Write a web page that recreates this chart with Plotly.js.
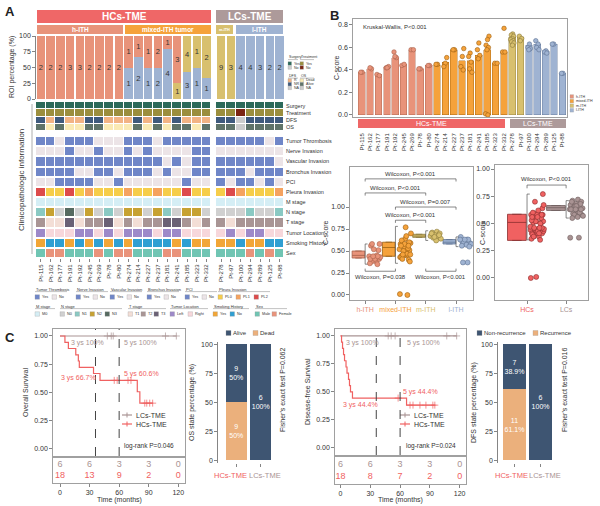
<!DOCTYPE html>
<html><head><meta charset="utf-8">
<script src="https://cdn.plot.ly/plotly-3.0.1.min.js"></script>
<style>body{margin:0;background:#fff}#chart{width:600px;height:506px}</style>
</head><body><div id="chart"></div>
<script>
// ================= DATA =================
const patients = ['Pt-115','Pt-162','Pt-177','Pt-191','Pt-192','Pt-245','Pt-269','Pt-78','Pt-80','Pt-274','Pt-214','Pt-227','Pt-237','Pt-181','Pt-241','Pt-185','Pt-323','Pt-332','Pt-278','Pt-97','Pt-100','Pt-294','Pt-289','Pt-125','Pt-88'];
const tmeGroup = ['HCs','HCs','HCs','HCs','HCs','HCs','HCs','HCs','HCs','HCs','HCs','HCs','HCs','HCs','HCs','HCs','HCs','HCs','LCs','LCs','LCs','LCs','LCs','LCs','LCs'];
const ithGroup = ['h-ITH','h-ITH','h-ITH','h-ITH','h-ITH','h-ITH','h-ITH','h-ITH','h-ITH','mixed-ITH','mixed-ITH','mixed-ITH','mixed-ITH','mixed-ITH','mixed-ITH','mixed-ITH','mixed-ITH','mixed-ITH','m-ITH','m-ITH','l-ITH','l-ITH','l-ITH','l-ITH','l-ITH'];
const roiH = [2,2,2,3,3,2,2,2,2, 1,1,1,2,1,3,0,0,0, 0,0,0,0,0,0,0];
const roiM = [0,0,0,0,0,0,0,0,0, 0,0,0,0,0,1,4,1,2, 9,3,0,0,0,0,0];
const roiL = [0,0,0,0,0,0,0,0,0, 1,2,1,2,4,0,3,1,1, 0,0,4,4,3,2,2];
const cScoreBar = [0.38,0.41,0.36,0.43,0.51,0.45,0.58,0.41,0.44,0.44,0.47,0.58,0.48,0.48,0.53,0.58,0.46,0.56,0.69,0.69,0.62,0.63,0.57,0.63,0.37];
const cScoreROI = [
 [0.38,0.38],[0.41,0.42],[0.36,0.35],[0.42,0.43,0.42],[0.56,0.51,0.52],[0.44,0.45],[0.58,0.58],[0.41,0.41],[0.44,0.44],
 [0.45,0.45],[0.51,0.46,0.43],[0.58,0.58],[0.59,0.52,0.43,0.40],[0.55,0.52,0.47,0.41,0.38],[0.64,0.58,0.53,0.50],[0.70,0.67,0.62,0.60,0.58,0.01,0.00],[0.46,0.46],[0.77,0.56,0.56],
 [0.72,0.71,0.70,0.68,0.67,0.66,0.65,0.64,0.62],[0.70,0.68,0.66],[0.63,0.60,0.59,0.58],[0.66,0.63,0.60,0.58],[0.57,0.56,0.55],[0.63,0.63],[0.37,0.37]
];
const surgery   = ['Yes','Yes','Yes','Yes','Yes','Yes','Yes','Yes','Yes','Yes','Yes','Yes','Yes','Yes','Yes','Yes','Yes','Yes','Yes','Yes','Yes','Yes','Yes','Yes','Yes'];
const treatment = ['Yes','Yes','Yes','Yes','Yes','Yes','Yes','Yes','Yes','Yes','Yes','Yes','Yes','Yes','Yes','Yes','Yes','Yes','Yes','Yes','No','Yes','Yes','Yes','Yes'];
const dfsState  = ['NR','R','NR','R','R','NR','NR','R','R','R','NR','R','NR','R','NR','R','R','R','NR','NR','NA','NR','NR','NR','NR'];
const osState   = ['Alive','Dead','Alive','Dead','Dead','Alive','Alive','Dead','Dead','Dead','Alive','Dead','Alive','Dead','Alive','Alive','Dead','Alive','Alive','Alive','NA','Alive','Alive','Alive','Alive'];
const thrombosis= ['Y','Y','N','Y','Y','Y','N','N','N','Y','Y','Y','N','Y','Y','Y','Y','Y','Y','Y','Y','Y','Y','N','Y'];
const nerve     = ['N','N','N','Y','N','N','Y','N','N','Y','N','Y','N','N','N','N','Y','Y','N','N','N','N','N','N','N'];
const vascular  = ['Y','Y','Y','Y','Y','Y','Y','Y','Y','Y','Y','Y','Y','N','Y','N','Y','Y','Y','Y','Y','Y','Y','Y','N'];
const bronchus  = ['Y','Y','Y','Y','N','N','Y','Y','N','Y','Y','Y','N','Y','N','N','Y','Y','Y','Y','Y','N','Y','Y','Y'];
const pci       = ['N','N','Y','Y','Y','Y','N','N','Y','N','N','N','N','N','N','Y','N','N','Y','N','Y','Y','N','Y','N'];
const pleura    = ['PL2','PL0','PL0','PL2','PL0','PL1','PL0','PL0','PL0','PL1','PL0','PL0','PL1','PL0','PL0','PL2','PL0','PL0','PL0','PL2','PL1','PL0','PL0','PL0','PL1'];
const mStage    = ['M0','M0','M0','M0','M0','M0','M0','M0','M0','M0','M0','M0','M0','M0','M0','M0','M0','M0','M0','M0','M0','M0','M0','M0','M0'];
const nStage    = ['N1','N2','N0','N3','N0','N2','N0','N1','N0','N2','N2','N0','N2','N1','N0','N2','N2','N0','N0','N0','N0','N1','N0','N0','N1'];
const tStage    = ['T2','T1','T1','T3','T1','T2','T2','T3','T1','T2','T1','T2','T2','T3','T3','T2','T1','T2','T2','T1','T2','T2','T2','T2','T2'];
const tumorLocation = ['Left','Right','Right','Right','Left','Left','Right','Left','Right','Left','Left','Left','Right','Left','Left','Right','Right','Right','Right','Left','Right','Left','Left','Right','Right'];
const smoking   = ['Yes','No','No','Yes','No','Yes','No','Yes','No','Yes','No','No','No','No','Yes','No','Yes','Yes','Yes','Yes','No','Yes','Yes','No','No'];
const sexes     = ['Male','Female','Female','Male','Male','Male','Female','Male','Female','Female','Male','Male','Male','Female','Female','Male','Male','Male','Male','Male','Male','Female','Male','Female','Male'];
const ithGroups = ['h-ITH','mixed-ITH','m-ITH','l-ITH'];
const ithQ1  = [0.42,0.44,0.655,0.58];
const ithMed = [0.45,0.54,0.67,0.60];
const ithQ3  = [0.50,0.60,0.69,0.63];
const ithLo  = [0.35,0.36,0.62,0.55];
const ithHi  = [0.58,0.78,0.73,0.66];
const tmeGroups = ['HCs','LCs'];
const tmeQ1  = [0.345,0.62];
const tmeMed = [0.51,0.645];
const tmeQ3  = [0.585,0.665];
const tmeLo  = [0.35,0.55];
const tmeHi  = [0.77,0.71];
const osHCt = [0,5,8.5,16,18.6,19.6,34,40.6,55,58,69,72,78.4,81,86,88,91,94];
const osHCs = [1,0.944,0.889,0.833,0.778,0.722,0.667,0.606,0.606,0.606,0.606,0.606,0.505,0.404,0.404,0.404,0.404,0.404];
const osHCc = [0,0,0,0,0,0,0,0,1,1,1,1,0,0,1,1,1,1];
const osLCt = [0,48,52,54,107,118];
const osLCs = [1,1,1,1,1,1];
const osLCc = [0,1,1,1,1,1];
const dfsHCt = [0,1,2,3,4,5.5,6.5,8,9,10,12,58,66.5,70,73,80,86,93,95];
const dfsHCs = [1,0.944,0.889,0.833,0.778,0.722,0.667,0.611,0.556,0.5,0.444,0.444,0.381,0.381,0.381,0.381,0.381,0.381,0.381];
const dfsHCc = [0,0,0,0,0,0,0,0,0,0,0,1,0,1,1,1,1,1,1];
const dfsLCt = [0,48,51,55,107,117];
const dfsLCs = [1,1,1,1,1,1];
const dfsLCc = [0,1,1,1,1,1];
const riskTimes = [0,30,60,90,120];
const osRiskLC = [6,6,3,3,0];
const osRiskHC = [18,13,9,2,0];
const dfsRiskLC = [6,6,3,3,0];
const dfsRiskHC = [18,8,7,2,0];
const stateGroups = ['HCs-TME','LCs-TME'];
const osAlive = [9,6];
const osDead  = [9,0];
const dfsNonRec = [7,6];
const dfsRec    = [11,0];

// ================= STYLE / HELPERS =================
const FONT = 'Arial, "Liberation Sans", Helvetica, sans-serif';
const W = 600, H = 506;
const PX = v => v / W, PY = v => 1 - v / H;
const xd = (a, b) => [PX(a), PX(b)];
const yd = (top, bot) => [PY(bot), PY(top)];
const cH = '#e8937a', cMix = '#f5a23b', cM = '#d8c06e', cL = '#9fb3d2';
const ithColor = {'h-ITH': cH, 'mixed-ITH': cMix, 'm-ITH': cM, 'l-ITH': cL};
const ithEdge  = {'h-ITH': '#a8624c', 'mixed-ITH': '#9c6010', 'm-ITH': '#8c7a3c', 'l-ITH': '#5f7394'};
const cHC = '#f06161', cLC = '#a99393';
const cRed = '#ef6767', cLCband = '#ad9a9a';
const cNavy = '#3e5572', cTan = '#ebb07c';
const frac = k => (k * 0.6180339887) % 1;

const pos = patients.map((p, i) => i + (i >= 18 ? 0.5 : 0));
const tot = patients.map((p, i) => roiH[i] + roiM[i] + roiL[i]);

const traces = [];
const shapes = [];
const ann = [];
function txt(x, y, text, o) { ann.push(Object.assign({x: PX(x), y: PY(y), xref: 'paper', yref: 'paper', xanchor: 'center', yanchor: 'middle', text, showarrow: false, borderpad: 0, font: {size: 7, color: '#333', family: FONT}}, o || {})); }
function rectPx(x0, y0, x1, y1, fill, line) { shapes.push({type: 'rect', xref: 'paper', yref: 'paper', x0: PX(x0), x1: PX(x1), y0: PY(y0), y1: PY(y1), fillcolor: fill, line: line || {width: 0}}); }
function linePx(x0, y0, x1, y1, color, w) { shapes.push({type: 'line', xref: 'paper', yref: 'paper', x0: PX(x0), x1: PX(x1), y0: PY(y0), y1: PY(y1), line: {color: color || '#888', width: w || 0.6}}); }
function vtitle(x, y, t) { txt(x, y, t, {textangle: -90, font: {size: 7, color: '#333', family: FONT}}); }

// ================= PANEL A =================
rectPx(37, 10, 211, 23, cRed); txt(124, 16.5, '<b>HCs-TME</b>', {font: {size: 10, color: '#fff', family: FONT}});
rectPx(216, 10, 283, 23, cLCband); txt(249.5, 16.5, '<b>LCs-TME</b>', {font: {size: 10, color: '#fff', family: FONT}});
rectPx(37, 25, 123, 34, cH); txt(80, 29.5, '<b>h-ITH</b>', {font: {size: 6.5, color: '#fff', family: FONT}});
rectPx(125, 25, 211, 34, cMix); txt(168, 29.5, '<b>mixed-ITH tumor</b>', {font: {size: 6.5, color: '#fff', family: FONT}});
rectPx(216, 25, 233, 34, cM); txt(224.5, 29.5, '<b>m-ITH</b>', {font: {size: 3.8, color: '#fff', family: FONT}});
rectPx(236, 25, 283, 34, cL); txt(259.5, 29.5, '<b>l-ITH</b>', {font: {size: 6.5, color: '#fff', family: FONT}});
vtitle(12, 67, 'ROI percentage (%)');

function roiTrace(counts, color) {
  return {type: 'bar', x: pos, y: counts.map((c, i) => c / tot[i] * 100),
    text: counts.map(c => c > 0 ? String(c) : ''), textposition: 'inside', insidetextanchor: 'middle', textangle: 0,
    textfont: {size: 7.5, color: '#333', family: FONT},
    marker: {color, line: {width: 0}}, width: 0.86, xaxis: 'x', yaxis: 'y', showlegend: false, hoverinfo: 'skip'};
}
traces.push(roiTrace(roiL, cL), roiTrace(roiM, cM), roiTrace(roiH, cH));

const colorMap = {
  'Surgery': {Yes: '#2c6a5a', No: '#cfcfcf'},
  'Treatment': {Yes: '#9b8e3d', No: '#7a2412'},
  'DFS': {R: '#f2b384', NR: '#3f5a7d', NA: '#cccccc'},
  'OS': {Dead: '#faeab3', Alive: '#5f7369', NA: '#cccccc'},
  'yesno': {Y: '#6f86c8', N: '#ece4e7'},
  'Pleura Invasion': {PL0: '#f6cd4a', PL1: '#f5a35f', PL2: '#dd4b4b'},
  'M stage': {M0: '#d5eef5'},
  'N stage': {N0: '#d0d0d0', N1: '#8ac9c3', N2: '#c7a232', N3: '#566a60'},
  'T stage': {T1: '#f3ded6', T2: '#a99595', T3: '#6a6175'},
  'Tumor Location': {Left: '#9d89c9', Right: '#f7d7db'},
  'Smoking History': {Yes: '#f2a636', No: '#2f9fd2'},
  'Sex': {Male: '#70c5b3', Female: '#e9937b'}
};
const rowsTop = [['Surgery', surgery], ['Treatment', treatment], ['DFS', dfsState], ['OS', osState]];
const rowsBot = [['Tumor Thrombosis', thrombosis], ['Nerve Invasion', nerve], ['Vascular Invasion', vascular], ['Bronchus Invasion', bronchus], ['PCI', pci], ['Pleura Invasion', pleura], ['M stage', mStage], ['N stage', nStage], ['T stage', tStage], ['Tumor Location', tumorLocation], ['Smoking History', smoking], ['Sex', sexes]];
const edges = [];
for (let i = 0; i <= 18; i++) edges.push(i - 0.5);
edges.push(18.0);
for (let i = 18; i < 25; i++) edges.push(pos[i] + 0.5);
function heat(rows, xa, ya, ygap) {
  const palette = [];
  const z = rows.map(([name, vals]) => {
    const cm = colorMap[name] || colorMap.yesno;
    const r = [];
    vals.forEach((v, i) => {
      if (i === 18) r.push(null);
      const c = cm[v]; let k = palette.indexOf(c);
      if (k < 0) { palette.push(c); k = palette.length - 1; }
      r.push(k);
    });
    return r;
  });
  const N = palette.length, cs = [];
  palette.forEach((c, i) => { cs.push([i / N, c]); cs.push([(i + 1) / N, c]); });
  traces.push({type: 'heatmap', z, x: edges, y: rows.map((r, i) => i), zmin: -0.5, zmax: N - 0.5, colorscale: cs, showscale: false, xgap: 1, ygap, xaxis: xa, yaxis: ya, hoverinfo: 'skip'});
  rows.forEach(([name], i) => ann.push({xref: 'paper', yref: ya, x: PX(285), y: i, text: name, xanchor: 'left', yanchor: 'middle', showarrow: false, borderpad: 0, font: {size: 5.5, color: '#333', family: FONT}}));
}
heat(rowsTop, 'x2', 'y2', 1);
heat(rowsBot, 'x3', 'y3', 2);
linePx(32, 104, 32, 254, '#999', 0.8);
txt(22, 180, 'Clinicopathologic information', {textangle: -90, font: {size: 8, color: '#333', family: FONT}});

function swatch(x, y, c, label, s, fs) {
  s = s || 3.5; fs = fs || 3.6;
  rectPx(x, y - s / 2, x + s, y + s / 2, c, {width: 0.3, color: '#999'});
  txt(x + s + 1.2, y, label, {xanchor: 'left', font: {size: fs, color: '#333', family: FONT}});
}
function ltitle(x, y, t, w, fs) { txt(x, y, t, {xanchor: 'left', font: {size: fs || 3.6, color: '#333', family: FONT}}); linePx(x, y + 2.6, x + w, y + 2.6, '#666', 0.4); }
ltitle(288, 57, 'Surgery', 10); ltitle(300, 57, 'Treatment', 14);
swatch(288, 63.5, colorMap.Surgery.Yes, 'Yes'); swatch(288, 67.5, colorMap.Surgery.No, 'No');
swatch(300, 63.5, colorMap.Treatment.Yes, 'Yes'); swatch(300, 67.5, colorMap.Treatment.No, 'No');
ltitle(288, 75.5, 'DFS', 10); ltitle(300, 75.5, 'OS', 14);
swatch(288, 80.5, colorMap.DFS.R, 'R'); swatch(288, 84.2, colorMap.DFS.NR, 'NR'); swatch(288, 87.9, colorMap.DFS.NA, 'NA');
swatch(300, 80.5, colorMap.OS.Dead, 'Dead'); swatch(300, 84.2, colorMap.OS.Alive, 'Alive'); swatch(300, 87.9, colorMap.OS.NA, 'NA');

const yn = colorMap.yesno;
[['Tumor Thrombosis', 35], ['Nerve Invasion', 76], ['Vascular Invasion', 110], ['Bronchus Invasion', 147], ['PCI', 185]].forEach(([t, x]) => {
  ltitle(x, 289, t, 32, 4); swatch(x, 297, yn.Y, 'Yes', 4.5, 3.8); swatch(x + 17, 297, yn.N, 'No', 4.5, 3.8);
});
ltitle(218, 289, 'Pleura Invasion', 52, 4);
['PL0', 'PL1', 'PL2'].forEach((k, i) => swatch(218 + i * 18, 297, colorMap['Pleura Invasion'][k], k, 4.5, 3.8));
ltitle(35, 306, 'M stage', 20, 4); swatch(35, 314, colorMap['M stage'].M0, 'M0', 4.5, 3.8);
ltitle(60, 306, 'N stage', 62, 4); ['N0', 'N1', 'N2', 'N3'].forEach((k, i) => swatch(60 + i * 15, 314, colorMap['N stage'][k], k, 4.5, 3.8));
ltitle(128, 306, 'T stage', 38, 4); ['T1', 'T2', 'T3'].forEach((k, i) => swatch(128 + i * 13, 314, colorMap['T stage'][k], k, 4.5, 3.8));
ltitle(170, 306, 'Tumor Location', 38, 4); swatch(170, 314, colorMap['Tumor Location'].Left, 'Left', 4.5, 3.8); swatch(188, 314, colorMap['Tumor Location'].Right, 'Right', 4.5, 3.8);
ltitle(213, 306, 'Smoking History', 36, 4); swatch(213, 314, colorMap['Smoking History'].Yes, 'Yes', 4.5, 3.8); swatch(230, 314, colorMap['Smoking History'].No, 'No', 4.5, 3.8);
ltitle(255, 306, 'Sex', 32, 4); swatch(255, 314, colorMap.Sex.Male, 'Male', 4.5, 3.8); swatch(272, 314, colorMap.Sex.Female, 'Female', 4.5, 3.8);

// ================= PANEL B =================
ithGroups.forEach(g => {
  const idx = patients.map((p, i) => i).filter(i => ithGroup[i] === g);
  traces.push({type: 'bar', x: idx, y: idx.map(i => cScoreBar[i]), marker: {color: ithColor[g], line: {color: ithEdge[g], width: 0.4}}, width: 0.8, xaxis: 'x4', yaxis: 'y4', showlegend: false, hoverinfo: 'skip'});
});
ithGroups.forEach(g => {
  const xs = [], ys = [];
  let n = 0;
  patients.forEach((p, i) => { if (ithGroup[i] !== g) return; cScoreROI[i].forEach(v => { n++; xs.push(i + (frac(n) - 0.5) * 0.45); ys.push(v); }); });
  traces.push({type: 'scatter', mode: 'markers', x: xs, y: ys, marker: {size: 4.5, color: ithColor[g], line: {color: ithEdge[g], width: 0.6}}, xaxis: 'x4', yaxis: 'y4', showlegend: false, hoverinfo: 'skip'});
});
txt(362, 27, 'Kruskal-Wallis, P<0.001', {xanchor: 'left', font: {size: 6, color: '#333', family: FONT}});
rectPx(358, 119, 505, 128, cRed); txt(431, 123.5, 'HCs-TME', {font: {size: 7, color: '#fff', family: FONT}});
rectPx(510, 119, 566, 128, cLCband); txt(538, 123.5, 'LCs-TME', {font: {size: 7, color: '#fff', family: FONT}});
ithGroups.forEach((g, i) => swatch(570, 96.5 + i * 4.6, ithColor[g], g, 3.6, 3.6));
vtitle(336, 68, 'C-score');

ithGroups.forEach((g, k) => {
  const c = k + 1;
  traces.push({type: 'box', x: [c - 0.22], q1: [ithQ1[k]], median: [ithMed[k]], q3: [ithQ3[k]], lowerfence: [ithQ1[k]], upperfence: [ithQ3[k]], width: 0.42,
    fillcolor: ithColor[g], line: {color: ithEdge[g], width: 0.8}, boxpoints: false, xaxis: 'x5', yaxis: 'y5', showlegend: false, hoverinfo: 'skip'});
  shapes.push({type: 'path', xref: 'x5', yref: 'y5', path: `M${c + 0.08},${ithLo[k]} L${c},${ithLo[k]} L${c},${ithHi[k]} L${c + 0.08},${ithHi[k]}`, line: {color: '#555', width: 0.7}});
  const xs = [], ys = [];
  let n = 0;
  patients.forEach((p, i) => { if (ithGroup[i] !== g) return; cScoreROI[i].forEach(v => { n++; xs.push(c + 0.12 + frac(n) * 0.4); ys.push(v); }); });
  traces.push({type: 'scatter', mode: 'markers', x: xs, y: ys, marker: {size: 5, color: ithColor[g], line: {color: ithEdge[g], width: 0.6}}, xaxis: 'x5', yaxis: 'y5', showlegend: false, hoverinfo: 'skip'});
});
function sig(xa, ya, a, b, y, d, label, ty) {
  shapes.push({type: 'path', xref: xa, yref: ya, path: `M${a},${y - d} L${a},${y} L${b},${y} L${b},${y - d}`, line: {color: '#555', width: 0.7}});
  ann.push({xref: xa, yref: ya, x: (a + b) / 2, y: ty, text: label, xanchor: 'center', yanchor: 'middle', showarrow: false, borderpad: 0, font: {size: 6, color: '#333', family: FONT}});
}
sig('x5', 'y5', 1, 4, 1.32, 0.03, 'Wilcoxon, P<0.001', 1.38);
sig('x5', 'y5', 1, 3, 1.16, 0.03, 'Wilcoxon, P<0.001', 1.22);
sig('x5', 'y5', 2, 4, 1.00, 0.03, 'Wilcoxon, P=0.007', 1.06);
sig('x5', 'y5', 2, 3, 0.85, 0.03, 'Wilcoxon, P<0.001', 0.91);
sig('x5', 'y5', 1, 2, 0.27, -0.03, 'Wilcoxon, P=0.038', 0.20);
sig('x5', 'y5', 3, 4, 0.27, -0.03, 'Wilcoxon, P<0.001', 0.20);
ann.push({xref: 'x5', yref: 'y5', x: 4.58, y: 0.0, text: 'Kruskal-Wallis, P<0.001', xanchor: 'right', yanchor: 'middle', showarrow: false, borderpad: 0, font: {size: 6, color: '#333', family: FONT}});
vtitle(325, 233, 'C-score');

const tmeColor = [cHC, cLC], tmeEdge = ['#8a2e2e', '#6e5e5e'];
tmeGroups.forEach((g, k) => {
  const c = k + 1;
  traces.push({type: 'box', x: [c - 0.26], q1: [tmeQ1[k]], median: [tmeMed[k]], q3: [tmeQ3[k]], lowerfence: [tmeQ1[k]], upperfence: [tmeQ3[k]], width: 0.48,
    fillcolor: tmeColor[k], line: {color: tmeEdge[k], width: 0.8}, boxpoints: false, xaxis: 'x6', yaxis: 'y6', showlegend: false, hoverinfo: 'skip'});
  shapes.push({type: 'path', xref: 'x6', yref: 'y6', path: `M${c + 0.07},${tmeLo[k]} L${c},${tmeLo[k]} L${c},${tmeHi[k]} L${c + 0.07},${tmeHi[k]}`, line: {color: '#555', width: 0.7}});
  const xs = [], ys = [];
  let n = 0;
  patients.forEach((p, i) => { if (tmeGroup[i] !== g) return; cScoreROI[i].forEach(v => { n++; xs.push(c + 0.08 + frac(n) * 0.36); ys.push(v); }); });
  traces.push({type: 'scatter', mode: 'markers', x: xs, y: ys, marker: {size: 5, color: tmeColor[k], line: {color: tmeEdge[k], width: 0.6}}, xaxis: 'x6', yaxis: 'y6', showlegend: false, hoverinfo: 'skip'});
});
sig('x6', 'y6', 1, 2, 0.853, 0.03, 'Wilcoxon, P<0.001', 0.91);
vtitle(482, 233, 'C-score');

// ================= PANEL C =================
function km(t, s, c, color, xa, ya) {
  traces.push({type: 'scatter', mode: 'lines+markers', x: t, y: s, line: {shape: 'hv', color, width: 1.2},
    marker: {symbol: 'cross-thin-open', size: c.map(v => v ? 5 : 0), color, line: {color, width: 1}}, xaxis: xa, yaxis: ya, showlegend: false, hoverinfo: 'skip'});
}
function risk(vals, row, color, xa, ya) {
  traces.push({type: 'scatter', mode: 'text', x: riskTimes, y: riskTimes.map(() => row), text: vals.map(String), textfont: {size: 9, color, family: FONT}, xaxis: xa, yaxis: ya, showlegend: false, hoverinfo: 'skip'});
}
function kmLegend(x, y, color, label) {
  linePx(x, y, x + 10, y, color, 1.2);
  linePx(x + 5, y - 2.5, x + 5, y + 2.5, color, 1);
  txt(x + 13, y, label, {xanchor: 'left', font: {size: 7, color: '#333', family: FONT}});
}
km(osLCt, osLCs, osLCc, cLC, 'x7', 'y7');
km(osHCt, osHCs, osHCc, cHC, 'x7', 'y7');
risk(osRiskLC, 1, cLC, 'x8', 'y8'); risk(osRiskHC, 0, cHC, 'x8', 'y8');
km(dfsLCt, dfsLCs, dfsLCc, cLC, 'x10', 'y10');
km(dfsHCt, dfsHCs, dfsHCc, cHC, 'x10', 'y10');
risk(dfsRiskLC, 1, cLC, 'x11', 'y11'); risk(dfsRiskHC, 0, cHC, 'x11', 'y11');
kmLegend(122, 415, cLC, 'LCs-TME'); kmLegend(122, 424, cHC, 'HCs-TME');
kmLegend(400, 415, cLC, 'LCs-TME'); kmLegend(400, 424, cHC, 'HCs-TME');
[36, 60].forEach(t => {
  shapes.push({type: 'line', xref: 'x7', yref: 'y7 domain', x0: t, x1: t, y0: 0, y1: 1, line: {color: '#444', width: 1, dash: 'dash'}});
  shapes.push({type: 'line', xref: 'x10', yref: 'y10 domain', x0: t, x1: t, y0: 0, y1: 1, line: {color: '#444', width: 1, dash: 'dash'}});
});
function kmText(xa, ya, x, y, t, color) { ann.push({xref: xa, yref: ya, x, y, text: t, xanchor: 'left', yanchor: 'middle', showarrow: false, borderpad: 0, font: {size: 7, color, family: FONT}}); }
kmText('x7', 'y7', 10, 0.94, '3 ys 100%', cLC); kmText('x7', 'y7', 64, 0.94, '5 ys 100%', cLC);
kmText('x7', 'y7', 0, 0.627, '3 ys 66.7%', cHC); kmText('x7', 'y7', 64, 0.663, '5 ys 60.6%', cHC);
ann.push({xref: 'x7', yref: 'y7', x: 117, y: 0.02, text: 'log-rank P=0.046', xanchor: 'right', yanchor: 'middle', showarrow: false, borderpad: 0, font: {size: 6.5, color: '#333', family: FONT}});
kmText('x10', 'y10', 4, 0.94, '3 ys 100%', cLC); kmText('x10', 'y10', 66, 0.94, '5 ys 100%', cLC);
kmText('x10', 'y10', 1, 0.379, '3 ys 44.4%', cHC); kmText('x10', 'y10', 61.5, 0.497, '5 ys 44.4%', cHC);
ann.push({xref: 'x10', yref: 'y10', x: 117, y: 0.02, text: 'log-rank P=0.024', xanchor: 'right', yanchor: 'middle', showarrow: false, borderpad: 0, font: {size: 6.5, color: '#333', family: FONT}});
vtitle(25, 393, 'Overall Survival');
vtitle(307, 392, 'Disease-free Survival');
txt(119, 500, 'Time (months)');
txt(400, 500, 'Time (months)');

function stateBars(top, bot, cTop, cBot, xa, ya) {
  const totals = top.map((v, i) => v + bot[i]);
  const lab = (v, i) => v > 0 ? `${v}<br>${(v / totals[i] * 100).toFixed(1).replace(/\.0$/, '')}%` : '';
  traces.push({type: 'bar', x: [0, 1], y: bot.map((v, i) => v / totals[i] * 100), text: bot.map(lab), textposition: 'inside', insidetextanchor: 'middle', textangle: 0, textfont: {size: 7, color: '#fff', family: FONT}, marker: {color: cBot}, width: 0.85, xaxis: xa, yaxis: ya, showlegend: false, hoverinfo: 'skip'});
  traces.push({type: 'bar', x: [0, 1], y: top.map((v, i) => v / totals[i] * 100), text: top.map(lab), textposition: 'inside', insidetextanchor: 'middle', textangle: 0, textfont: {size: 7, color: '#fff', family: FONT}, marker: {color: cTop}, width: 0.85, xaxis: xa, yaxis: ya, showlegend: false, hoverinfo: 'skip'});
}
stateBars(osAlive, osDead, cNavy, cTan, 'x9', 'y9');
stateBars(dfsNonRec, dfsRec, cNavy, cTan, 'x12', 'y12');
swatch(226, 333, cNavy, 'Alive', 5, 6); swatch(253, 333, cTan, 'Dead', 5, 6);
swatch(477, 333, cNavy, 'Non-recurrence', 5, 6); swatch(533, 333, cTan, 'Recurrence', 5, 6);
txt(282, 390, "Fisher's exact test P=0.062", {textangle: -90, font: {size: 7, color: '#333', family: FONT}});
txt(564, 390, "Fisher's exact test P=0.016", {textangle: -90, font: {size: 7, color: '#333', family: FONT}});
vtitle(192, 403, 'OS state percentage (%)');
vtitle(474, 403, 'DFS state percentage (%)');
txt(230, 475, stateGroups[0], {font: {size: 7.5, color: cHC, family: FONT}});
txt(265, 475, stateGroups[1], {font: {size: 7.5, color: cLC, family: FONT}});
txt(511, 475, stateGroups[0], {font: {size: 7.5, color: cHC, family: FONT}});
txt(545, 475, stateGroups[1], {font: {size: 7.5, color: cLC, family: FONT}});

txt(10, 12, '<b>A</b>', {font: {size: 13, color: '#222', family: FONT}});
txt(334, 15, '<b>B</b>', {font: {size: 13, color: '#222', family: FONT}});
txt(10, 337, '<b>C</b>', {font: {size: 13, color: '#222', family: FONT}});

// ================= LAYOUT =================
const base = {showgrid: false, zeroline: false, showline: true, linecolor: '#666', linewidth: 0.8, ticks: 'outside', ticklen: 3, tickwidth: 0.8, tickcolor: '#666', tickfont: {size: 7, color: '#333', family: FONT}};
const ax = o => Object.assign({}, base, o);
const tickColored = ithGroups.map(g => `<span style="color:${ithColor[g]}">${g}</span>`);
const layout = {
  width: W, height: H, margin: {l: 0, r: 0, t: 0, b: 0}, paper_bgcolor: '#fff', plot_bgcolor: 'rgba(0,0,0,0)',
  font: {family: FONT, size: 7, color: '#333'}, barmode: 'stack', bargap: 0, showlegend: false,
  uniformtext: {mode: 'show', minsize: 7},
  xaxis: ax({domain: xd(36, 284), range: [-0.5, 24.95], showline: false, ticks: '', showticklabels: false, anchor: 'y'}),
  yaxis: ax({domain: yd(36, 99), range: [0, 100], tickvals: [0, 25, 50, 75, 100], anchor: 'x'}),
  xaxis2: ax({domain: xd(36, 284), range: [-0.5, 24.95], showline: false, ticks: '', showticklabels: false, anchor: 'y2'}),
  yaxis2: ax({domain: yd(102, 131), range: [3.5, -0.5], showline: false, ticks: '', showticklabels: false, anchor: 'x2'}),
  xaxis3: ax({domain: xd(36, 284), range: [-0.5, 24.95], showline: false, tickvals: pos, ticktext: patients, tickangle: -90, tickfont: {size: 6, color: '#333', family: FONT}, anchor: 'y3'}),
  yaxis3: ax({domain: yd(136, 258), range: [11.5, -0.5], showline: false, ticks: '', showticklabels: false, anchor: 'x3'}),
  xaxis4: ax({domain: xd(353, 567), range: [-1.05, 24.55], mirror: true, linecolor: '#888', ticks: '', tickvals: patients.map((p, i) => i), ticktext: patients, tickangle: -90, ticklabelstandoff: 13, tickfont: {size: 6, color: '#333', family: FONT}, anchor: 'y4'}),
  yaxis4: ax({domain: yd(19, 117), range: [-0.018, 0.853], mirror: true, linecolor: '#888', tickvals: [0, 0.2, 0.4, 0.6, 0.8], tickformat: '.1f', anchor: 'x4'}),
  xaxis5: ax({domain: xd(350, 473), range: [0.5, 4.56], mirror: true, linecolor: '#888', tickvals: [1, 2, 3, 4], ticktext: tickColored, tickfont: {size: 7, family: FONT}, anchor: 'y5'}),
  yaxis5: ax({domain: yd(167, 300), range: [-0.057, 1.455], mirror: true, linecolor: '#888', tickvals: [0, 0.25, 0.5, 0.75, 1], tickformat: '.2f', anchor: 'x5'}),
  xaxis6: ax({domain: xd(495, 588), range: [0.18, 2.56], mirror: true, linecolor: '#888', tickvals: [1, 2], ticktext: [`<span style="color:${cHC}">HCs</span>`, `<span style="color:${cLC}">LCs</span>`], tickfont: {size: 7, family: FONT}, anchor: 'y6'}),
  yaxis6: ax({domain: yd(165, 300), range: [-0.202, 1.037], mirror: true, linecolor: '#888', tickvals: [0, 0.25, 0.5, 0.75, 1], tickformat: '.2f', anchor: 'x6'}),
  xaxis7: ax({domain: xd(53, 185), range: [-7.1, 126.8], mirror: true, linecolor: '#888', ticks: '', showticklabels: false, anchor: 'y7'}),
  yaxis7: ax({domain: yd(329, 456), range: [-0.065, 1.062], mirror: true, linecolor: '#888', tickvals: [0, 0.25, 0.5, 0.75, 1], tickformat: '.2f', anchor: 'x7'}),
  xaxis8: ax({domain: xd(53, 185), range: [-7.1, 126.8], mirror: true, linecolor: '#888', tickvals: riskTimes, anchor: 'y8'}),
  yaxis8: ax({domain: yd(458, 483), range: [-0.6, 1.6], mirror: true, linecolor: '#888', ticks: '', showticklabels: false, anchor: 'x8'}),
  xaxis9: ax({domain: xd(218, 279), range: [-0.75, 1.75], showline: false, tickvals: [0, 1], showticklabels: false, anchor: 'y9'}),
  yaxis9: ax({domain: yd(342, 463), range: [-2.5, 102], tickvals: [0, 25, 50, 75, 100], anchor: 'x9'}),
  xaxis10: ax({domain: xd(335, 466), range: [-5.6, 126.4], mirror: true, linecolor: '#888', ticks: '', showticklabels: false, anchor: 'y10'}),
  yaxis10: ax({domain: yd(329, 455), range: [-0.065, 1.062], mirror: true, linecolor: '#888', tickvals: [0, 0.25, 0.5, 0.75, 1], tickformat: '.2f', anchor: 'x10'}),
  xaxis11: ax({domain: xd(335, 466), range: [-5.6, 126.4], mirror: true, linecolor: '#888', tickvals: riskTimes, anchor: 'y11'}),
  yaxis11: ax({domain: yd(457, 484), range: [-0.6, 1.6], mirror: true, linecolor: '#888', ticks: '', showticklabels: false, anchor: 'x11'}),
  xaxis12: ax({domain: xd(498, 557), range: [-0.63, 1.63], showline: false, tickvals: [0, 1], showticklabels: false, anchor: 'y12'}),
  yaxis12: ax({domain: yd(342, 463), range: [-2.5, 102], tickvals: [0, 25, 50, 75, 100], anchor: 'x12'}),
  shapes, annotations: ann
};
Plotly.newPlot('chart', traces, layout, {displayModeBar: false, staticPlot: true});
</script>
</body></html>
